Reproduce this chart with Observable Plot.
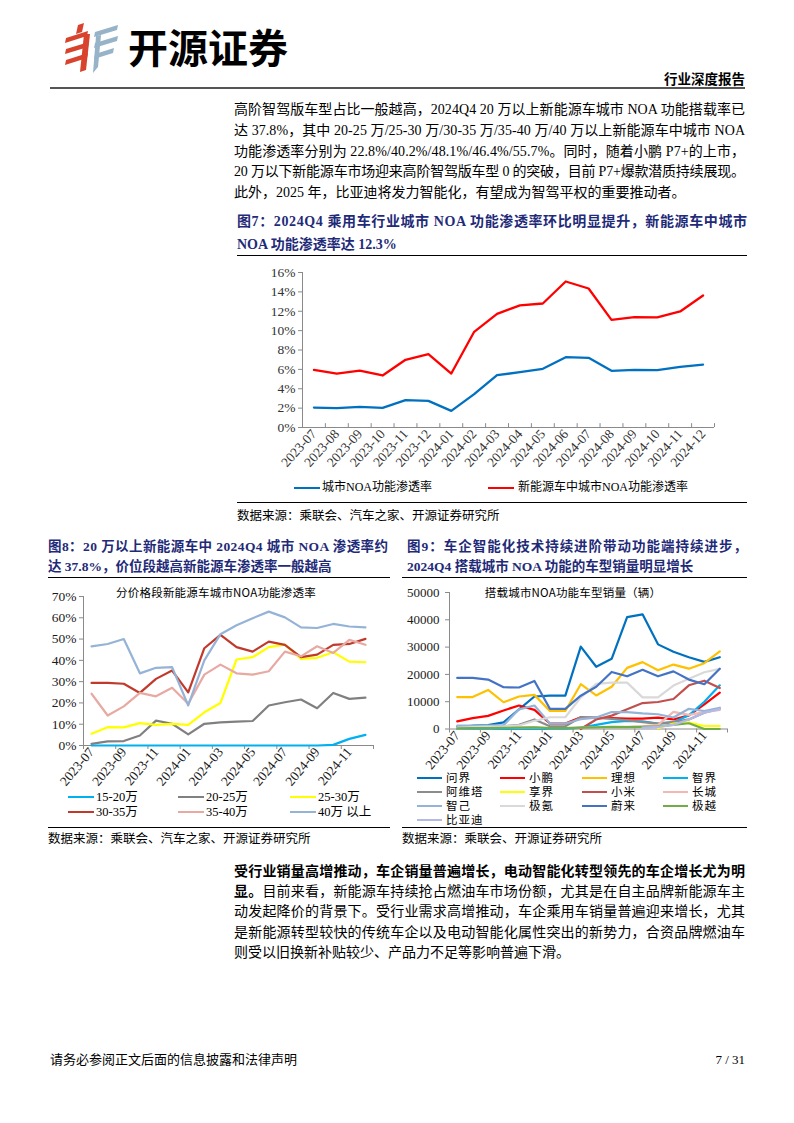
<!DOCTYPE html>
<html lang="zh">
<head>
<meta charset="utf-8">
<script src="https://cdn.jsdelivr.net/npm/d3@7"></script>
<script src="https://cdn.jsdelivr.net/npm/@observablehq/plot@0.6"></script>
<style>
html,body{margin:0;padding:0;background:#fff;}
#page{position:relative;width:794px;height:1123px;overflow:hidden;background:#fff;font-family:"Liberation Serif","Noto Sans CJK SC",serif;color:#000;}
#page svg{overflow:visible;}
</style>
</head>
<body>
<div id="page"></div>
<script>
// ---------------- DATA ----------------
const months = ["2023-07","2023-08","2023-09","2023-10","2023-11","2023-12","2024-01","2024-02","2024-03","2024-04","2024-05","2024-06","2024-07","2024-08","2024-09","2024-10","2024-11","2024-12"];

// Fig 7 (%)
const fig7Names = ["城市NOA功能渗透率","新能源车中城市NOA功能渗透率"];
const cityNOA    = [2.06,2.00,2.13,2.03,2.82,2.75,1.72,3.44,5.40,5.71,6.06,7.26,7.19,5.85,5.95,5.92,6.26,6.50];
const nevCityNOA = [5.95,5.57,5.88,5.37,6.99,7.57,5.57,9.88,11.73,12.60,12.80,15.07,14.35,11.11,11.39,11.36,11.98,13.63];
const fig7YTicks = [0,2,4,6,8,10,12,14,16];

// Fig 8 (%)
const fig8Names = ["15-20万","20-25万","25-30万","30-35万","35-40万","40万 以上"];
const p15_20 = [0,0,0,0,0,0,0,0,0,0,0,0,0,0,0,0.3,3.1,5.0];
const p20_25 = [0.8,1.9,2.1,4.7,11.7,10.2,5.2,10.2,10.9,11.2,11.5,18.8,20.3,21.6,17.5,24.7,21.9,22.5];
const p25_30 = [5.5,8.6,8.5,10.5,9.7,10.2,9.7,15.6,20.0,40.4,41.5,46.2,47.4,40.7,41.2,43.8,39.4,39.1];
const p30_35 = [29.4,29.4,29.0,24.7,31.3,35.2,25.0,45.7,52.0,46.2,44.1,48.8,47.3,41.5,42.7,47.3,47.7,50.1];
const p35_40 = [24.3,14.1,18.4,24.7,23.1,27.1,19.6,33.3,38.0,33.9,33.3,34.9,44.1,41.9,46.6,43.5,49.6,47.3];
const p40plus = [46.6,47.7,50.0,33.9,36.5,36.8,18.8,40.0,52.3,56.5,59.8,62.9,60.2,55.5,55.2,57.1,55.9,55.5];
const fig8YTicks = [0,10,20,30,40,50,60,70];

// Fig 9 (辆)
const fig9Names = ["问界","小鹏","理想","智界","阿维塔","享界","小米","长城","智己","极氪","蔚来","极越","比亚迪"];
const wenjie   = [800,1200,1400,2400,7200,11900,12200,12200,30200,22800,25700,41000,42000,31000,28300,26300,24600,26300];
const xpeng    = [2800,4000,4800,6800,8600,7000,2000,2000,4300,4000,4000,3800,3800,4200,3500,5000,9000,13300];
const lixiang  = [11700,11700,14300,9800,11900,12500,6600,6600,16400,12300,15500,22400,24500,21500,23600,22100,24100,28400];
const zhijie   = [0,0,0,0,0,0,0,0,500,1500,2500,3000,2800,2000,2500,5000,10000,16000];
const avatr    = [300,500,700,1000,1500,3500,1000,1000,4300,4300,3700,3200,2500,2000,2500,3500,6000,7500];
const xiangjie = [null,null,null,null,null,null,null,null,null,null,null,null,null,300,2000,2400,1100,1100];
const xiaomi   = [null,null,null,null,null,null,null,null,0,3500,4900,7200,9500,9900,11000,16000,17700,15000];
const gwm      = [200,300,300,400,500,600,300,300,500,600,700,800,1000,1500,6300,5200,6200,7000];
const zhiji    = [1200,1200,1200,1400,7200,8600,2000,2000,3600,4200,6200,6200,5700,5400,4200,7400,6600,7800];
const zeekr    = [500,700,900,1000,1300,3000,4300,4300,11600,16500,17000,17000,11600,11600,15900,18400,20800,22000];
const nio      = [18700,18700,18100,15300,15200,17600,7400,7400,12200,15500,20900,19300,21700,19300,21100,18100,16400,22100];
const jiyue    = [200,300,300,400,500,600,300,300,500,600,800,700,800,1000,1500,2100,0,0];
const byd      = [null,null,null,null,null,null,null,null,null,null,null,null,500,800,1500,3500,6000,7300];
const fig9YTicks = [0,10000,20000,30000,40000,50000];

// ---------------- TEXT ----------------
const topLines = [
  "高阶智驾版车型占比一般越高，2024Q4 20 万以上新能源车城市 NOA 功能搭载率已",
  "达 37.8%，其中 20-25 万/25-30 万/30-35 万/35-40 万/40 万以上新能源车中城市 NOA",
  "功能渗透率分别为 22.8%/40.2%/48.1%/46.4%/55.7%。同时，随着小鹏 P7+的上市，",
  "20 万以下新能源车市场迎来高阶智驾版车型 0 的突破，目前 P7+爆款潜质持续展现。",
  "此外，2025 年，比亚迪将发力智能化，有望成为智驾平权的重要推动者。"
];
const bottomLines = [
  [["受行业销量高增推动，车企销量普遍增长，电动智能化转型领先的车企增长尤为明",1]],
  [["显。",1],["目前来看，新能源车持续抢占燃油车市场份额，尤其是在自主品牌新能源车主",0]],
  [["动发起降价的背景下。受行业需求高增推动，车企乘用车销量普遍迎来增长，尤其",0]],
  [["是新能源转型较快的传统车企以及电动智能化属性突出的新势力，合资品牌燃油车",0]],
  [["则受以旧换新补贴较少、产品力不足等影响普遍下滑。",0]]
];
const fig7Title = ["图7：2024Q4 乘用车行业城市 NOA 功能渗透率环比明显提升，新能源车中城市","NOA 功能渗透率达 12.3%"];
const fig8Title = ["图8：20 万以上新能源车中 2024Q4 城市 NOA 渗透率约","达 37.8%，价位段越高新能源车渗透率一般越高"];
const fig9Title = ["图9：车企智能化技术持续进阶带动功能端持续进步，","2024Q4 搭载城市 NOA 功能的车型销量明显增长"];
const fig8Inner = "分价格段新能源车城市NOA功能渗透率";
const fig9Inner = "搭载城市NOA功能车型销量（辆）";
const src1 = "数据来源：乘联会、汽车之家、开源证券研究所";
const src2 = "数据来源：乘联会、开源证券研究所";

// ---------------- STYLES ----------------
const SERIF = '"Liberation Serif","Noto Sans CJK SC",serif';
const NAVY = "#1f2b78";
const AX = "#8a8a8a";
const fig7Colors = ["#0070C0","#FF0000"];
const fig8Colors = ["#00B0F0","#808080","#FFFF00","#C0392B","#E8A9A3","#95B3D7"];
const fig9Colors = ["#0070C0","#FF0000","#FFC000","#00B0F0","#8C8C8C","#FFFF00","#C0504D","#F2B8B4","#95B3D7","#D9D9D9","#4472C4","#70AD47","#B4B9E6"];

const page = document.getElementById("page");
function el(tag, style, text) {
  const e = document.createElement(tag);
  Object.assign(e.style, style);
  if (text != null) e.textContent = text;
  page.appendChild(e);
  return e;
}
function hline(x1, x2, y, w, color) {
  el("div", {position:"absolute", left:x1+"px", top:(y - w/2)+"px", width:(x2-x1)+"px", height:w+"px", background:color||"#000"});
}
// segments: [[text,bold],...]; left x, center y; justify to width W if given
function line(x, yc, segs, o) {
  o = o || {};
  const size = o.size || 14;
  const d = el("div", {position:"absolute", left:x+"px", top:(yc - size*0.72)+"px", fontSize:size+"px",
    lineHeight:(size*1.44)+"px", whiteSpace:"nowrap", color:o.color||"#000", fontFamily:o.font||SERIF,
    fontWeight:o.bold?"700":"400", letterSpacing:(o.ls||0)+"px"});
  if (typeof segs === "string") segs = [[segs, o.bold?1:0]];
  for (const [t,b] of segs) {
    const s = document.createElement("span");
    s.textContent = t;
    s.style.fontWeight = b ? "700" : (o.bold ? "700" : "400");
    d.appendChild(s);
  }
  if (o.width) {
    const w = d.getBoundingClientRect().width;
    const n = segs.reduce((a,[t]) => a + Array.from(t).length, 0);
    const ls = (o.width - w) / (n - 1);
    d.style.letterSpacing = ls + "px";
  }
  if (o.center) {
    const w = d.getBoundingClientRect().width;
    d.style.left = (x - w/2) + "px";
  }
  if (o.right) {
    const w = d.getBoundingClientRect().width;
    d.style.left = (x - w) + "px";
  }
  return d;
}
function place(svg, x, y) {
  const w = el("div", {position:"absolute", left:x+"px", top:y+"px"});
  w.appendChild(svg);
}
function legendItem(x1, y, color, label, o) {
  o = o || {};
  hline(x1, x1 + (o.len||26), y, o.lw||2.5, color);
  line(x1 + (o.len||26) + (o.gap||2), y, label, {size:o.size||12.5, ls:o.ls||0});
}

// ---------------- HEADER ----------------
const logo = el("div", {position:"absolute", left:"62px", top:"22px", width:"60px", height:"52px"});
logo.innerHTML = `<svg width="60" height="52" viewBox="0 0 60 52">
  <g fill="#D8432E">
    <path d="M16 3 L22 1 L20 10 L14 12 Z"/>
    <path d="M4 16 L26 9 L25 14 L3 21 Z"/>
    <path d="M4 27 L27 20 L26 25 L3 32 Z"/>
    <path d="M4 38 L26 31 L25 36 L3 43 Z"/>
    <path d="M22 12 L28 12 L24 48 L18 50 Z"/>
  </g>
  <g fill="#97B3C8">
    <path d="M33 10 L56 3 L55 8 L32 15 Z"/>
    <path d="M33 21 L56 14 L55 19 L32 26 Z"/>
    <path d="M33 32 L52 26 L51 31 L32 37 Z"/>
    <path d="M34 14 L39 13 L36 45 L31 51 Z"/>
  </g></svg>`;
line(128, 47, "开源证券", {size:40, bold:true, font:'"Noto Sans CJK SC",sans-serif'});
line(745, 79, "行业深度报告", {size:13.5, bold:true, right:true, font:'"Noto Sans CJK SC",sans-serif'});
hline(50, 745, 88, 2, "#555");

// ---------------- TOP PARAGRAPH ----------------
topLines.forEach((t,k) => {
  const last = k === topLines.length - 1;
  line(234, 110 + 20.8*k, t, {size:14, width: last ? null : 511});
});

// ---------------- FIG 7 ----------------
line(237, 222, fig7Title[0], {size:14, bold:true, color:NAVY, width:510});
line(237, 245.5, fig7Title[1], {size:14, bold:true, color:NAVY});
hline(237, 747, 255.5, 1.5, "#000");

const f7rows = [];
months.forEach((m,i) => {
  f7rows.push({s:fig7Names[0], i, v:cityNOA[i]});
  f7rows.push({s:fig7Names[1], i, v:nevCityNOA[i]});
});
const fig7 = Plot.plot({
  width:490, height:213, marginLeft:62, marginRight:16, marginTop:10, marginBottom:48,
  style:{fontFamily:'"Liberation Serif",serif', fontSize:"12px", color:"#333", background:"transparent"},
  x:{domain:[-0.5, months.length - 0.5], label:null},
  y:{domain:[0,16], label:null},
  color:{domain:fig7Names, range:fig7Colors},
  marks:[
    Plot.axisY(fig7YTicks, {label:null, tickSize:4, tickPadding:3, tickFormat:d => d + "%", stroke:AX, fontSize:13.5}),
    Plot.axisX(d3.range(months.length), {label:null, tickSize:0, tickRotate:-48, tickPadding:4, tickFormat:i => months[i], fontSize:13.5}),
    Plot.ruleX(d3.range(-0.5, months.length, 1), {y1:0, y2:0.4, stroke:AX}),
    Plot.ruleY([0], {stroke:AX}),
    Plot.ruleX([-0.5], {stroke:AX}),
    Plot.line(f7rows, {x:"i", y:"v", stroke:"s", strokeWidth:2.3})
  ]
});
place(fig7, 240, 262);

legendItem(294, 488, fig7Colors[0], fig7Names[0], {size:12});
legendItem(488, 488, fig7Colors[1], fig7Names[1], {size:12, gap:4});
hline(237, 747, 502, 1, "#000");
line(237, 516, src1, {size:12.5});

// ---------------- FIG 8 ----------------
line(48, 547, fig8Title[0], {size:13.5, bold:true, color:NAVY, width:340});
line(48, 567, fig8Title[1], {size:13.5, bold:true, color:NAVY});
hline(48, 390, 577.5, 1.5, "#000");

const f8series = [p15_20, p20_25, p25_30, p30_35, p35_40, p40plus];
const f8rows = fig8Names.flatMap((n,k) => f8series[k].map((v,i) => ({s:n, i, v})));
const fig8 = Plot.plot({
  width:340, height:205, marginLeft:43, marginRight:7, marginTop:11, marginBottom:45,
  style:{fontFamily:'"Liberation Serif",serif', fontSize:"12px", color:"#1a1a1a", background:"transparent"},
  x:{domain:[-0.5, months.length - 0.5], label:null},
  y:{domain:[0,70], label:null},
  color:{domain:fig8Names, range:fig8Colors},
  marks:[
    Plot.axisY(fig8YTicks, {label:null, tickSize:4, tickPadding:3, tickFormat:d => d + "%", stroke:AX, fontSize:13.5}),
    Plot.axisX(d3.range(0, months.length, 2), {label:null, tickSize:0, tickRotate:-50, tickPadding:4, tickFormat:i => months[i], fontSize:13.5}),
    Plot.axisX(d3.range(-0.5, months.length + 0.5, 2), {label:null, tickSize:4, tickFormat:() => "", stroke:AX}),
    Plot.ruleY([0], {stroke:AX}),
    Plot.ruleX([-0.5], {stroke:AX}),
    Plot.line(f8rows, {x:"i", y:"v", stroke:"s", z:"s", strokeWidth:2.2})
  ]
});
place(fig8, 40, 585);
line(216, 592, fig8Inner, {size:11.5, center:true, font:'"Noto Sans CJK SC",sans-serif', ls:0.2});

const f8cols = [68, 178, 290];
fig8Names.forEach((n,k) => {
  legendItem(f8cols[k % 3], 797 + 15*Math.floor(k/3), fig8Colors[k], n, {size:12.5});
});
hline(48, 390, 827, 1, "#000");
line(48, 839, src1, {size:12.5});

// ---------------- FIG 9 ----------------
line(407, 547, fig9Title[0], {size:13.5, bold:true, color:NAVY, width:340});
line(407, 567, fig9Title[1], {size:13.5, bold:true, color:NAVY});
hline(402, 747, 577.5, 1.5, "#000");

const f9series = [wenjie, xpeng, lixiang, zhijie, avatr, xiangjie, xiaomi, gwm, zhiji, zeekr, nio, jiyue, byd];
const f9rows = fig9Names.flatMap((n,k) => f9series[k].map((v,i) => ({s:n, i, v: v == null ? NaN : v})));
const fig9 = Plot.plot({
  width:340, height:192, marginLeft:49, marginRight:13, marginTop:12, marginBottom:43.5,
  style:{fontFamily:'"Liberation Serif",serif', fontSize:"12px", color:"#1a1a1a", background:"transparent"},
  x:{domain:[-0.5, months.length - 0.5], label:null},
  y:{domain:[0,50000], label:null},
  color:{domain:fig9Names, range:fig9Colors},
  marks:[
    Plot.axisY(fig9YTicks, {label:null, tickSize:4, tickPadding:6, tickFormat:d => String(d), stroke:AX, fontSize:13}),
    Plot.axisX(d3.range(0, months.length, 2), {label:null, tickSize:0, tickRotate:-50, tickPadding:4, tickFormat:i => months[i], fontSize:13.5}),
    Plot.axisX(d3.range(-0.5, months.length + 0.5, 2), {label:null, tickSize:4, tickFormat:() => "", stroke:AX}),
    Plot.ruleY([0], {stroke:AX}),
    Plot.ruleX([-0.5], {stroke:AX}),
    Plot.line(f9rows, {x:"i", y:"v", stroke:"s", z:"s", strokeWidth:2.2})
  ]
});
place(fig9, 400, 580);
line(573, 592, fig9Inner, {size:11.5, center:true, font:'"Noto Sans CJK SC",sans-serif', ls:0.2});

const f9cols = [417, 500, 582, 663];
fig9Names.forEach((n,k) => {
  legendItem(f9cols[k % 4], 778 + 14*Math.floor(k/4), fig9Colors[k], n, {size:11.5, len:25, gap:4, ls:1});
});
hline(402, 747, 827, 1, "#000");
line(402, 839, src2, {size:12.5});

// ---------------- BOTTOM PARAGRAPH ----------------
bottomLines.forEach((segs,k) => {
  const last = k === bottomLines.length - 1;
  line(234, 872 + 20.2*k, segs, {size:14, width: last ? null : 511});
});

// ---------------- FOOTER ----------------
line(50, 1060, "请务必参阅正文后面的信息披露和法律声明", {size:13});
line(745, 1060, "7 / 31", {size:13, right:true});
</script>
</body>
</html>
